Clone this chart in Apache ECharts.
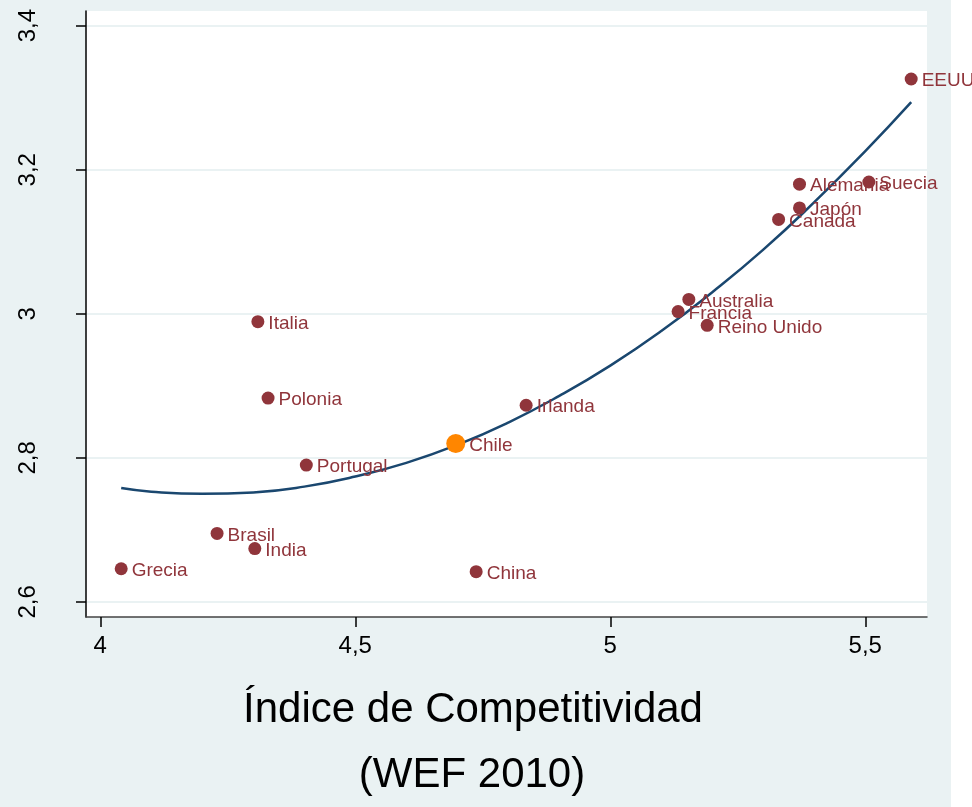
<!DOCTYPE html>
<html>
<head>
<meta charset="utf-8">
<script src="https://cdn.jsdelivr.net/npm/echarts@6/dist/echarts.min.js"></script>
<style>
html,body{margin:0;padding:0;background:#ffffff;}
#chart{width:972px;height:807px;background:linear-gradient(to right,#EAF2F3 0px,#EAF2F3 951px,#ffffff 951px,#ffffff 972px);}
</style>
</head>
<body>
<div id="chart"></div>
<script>
// Data
const countries = ['EEUU','Suecia','Alemania','Japón','Canada','Australia','Francia','Reino Unido','Italia','Polonia','Portugal','Irlanda','Brasil','India','Grecia','China'];
const competitividad = [5.590,5.507,5.371,5.371,5.330,5.154,5.133,5.190,4.309,4.329,4.404,4.835,4.229,4.303,4.041,4.737];
const indicador = [3.326,3.183,3.180,3.147,3.131,3.020,3.003,2.984,2.989,2.883,2.790,2.873,2.695,2.674,2.646,2.642];
const chileName = 'Chile';
const chileX = 4.697;
const chileY = 2.820;
// Quadratic fit line
const fitX = [4.041,4.1,4.2,4.3,4.4,4.5,4.6,4.7,4.8,4.9,5.0,5.1,5.2,5.3,5.4,5.5,5.59];
const fitY = [2.758,2.753,2.750,2.752,2.760,2.774,2.793,2.818,2.849,2.886,2.928,2.976,3.030,3.089,3.155,3.226,3.294];
const xTicks = [4,4.5,5,5.5];
const yTicks = [2.6,2.8,3.0,3.2,3.4];
const xTitle = 'Índice de Competitividad';
const xSubtitle = '(WEF 2010)';

const FONT = 'Liberation Sans, Arial, sans-serif';
const RED = '#90353B';
const fmt = v => String(Math.round(v*10)/10).replace('.', ',');

const chart = echarts.init(document.getElementById('chart'));
chart.setOption({
  animation: false,
  backgroundColor: 'transparent',
  grid: {left: 86, top: 11, right: 45, bottom: 190, show: true, backgroundColor: '#ffffff', borderWidth: 0},
  xAxis: {
    type: 'value', min: 3.972, max: 5.621,
    axisLine: {show: true, onZero: false, lineStyle: {color: '#444', width: 1.5}},
    axisTick: {show: true, length: 10, lineStyle: {color: '#000', width: 1.5}, customValues: xTicks},
    axisLabel: {customValues: xTicks, formatter: fmt, fontSize: 24, color: '#000', fontFamily: FONT, margin: 17},
    splitLine: {show: false}
  },
  yAxis: {
    type: 'value', min: 2.579, max: 3.4204,
    axisLine: {show: true, onZero: false, lineStyle: {color: '#000', width: 1.5}},
    axisTick: {show: true, length: 10, lineStyle: {color: '#000', width: 1.5}, customValues: yTicks},
    axisLabel: {customValues: yTicks, formatter: fmt, fontSize: 24, color: '#000', fontFamily: FONT, rotate: 90, margin: 46},
    splitLine: {show: true, lineStyle: {color: '#EAF2F3', width: 2}}
  },
  graphic: [
    {type: 'text', x: 473, y: 710, style: {text: xTitle, fontSize: 42, fontFamily: FONT, fill: '#000', textAlign: 'center', textVerticalAlign: 'middle'}},
    {type: 'text', x: 472, y: 775, style: {text: xSubtitle, fontSize: 42, fontFamily: FONT, fill: '#000', textAlign: 'center', textVerticalAlign: 'middle'}}
  ],
  series: [
    {
      type: 'line', data: fitX.map((x, i) => [x, fitY[i]]), smooth: true, showSymbol: false, symbol: 'none',
      lineStyle: {color: '#1A476F', width: 2.5}, z: 2
    },
    {
      type: 'scatter', symbolSize: 13, itemStyle: {color: RED, opacity: 1},
      data: countries.map((n, i) => ({name: n, value: [competitividad[i], indicador[i]]})),
      label: {show: true, position: 'right', distance: 4, offset: [0, 2], formatter: p => p.name, color: RED, fontSize: 19, fontFamily: FONT},
      z: 3
    },
    {
      type: 'scatter', symbolSize: 19, itemStyle: {color: '#FF8600', opacity: 1},
      data: [{name: chileName, value: [chileX, chileY]}],
      label: {show: true, position: 'right', distance: 4, offset: [0, 2], formatter: p => p.name, color: RED, fontSize: 19, fontFamily: FONT},
      z: 4
    }
  ]
});
</script>
</body>
</html>
